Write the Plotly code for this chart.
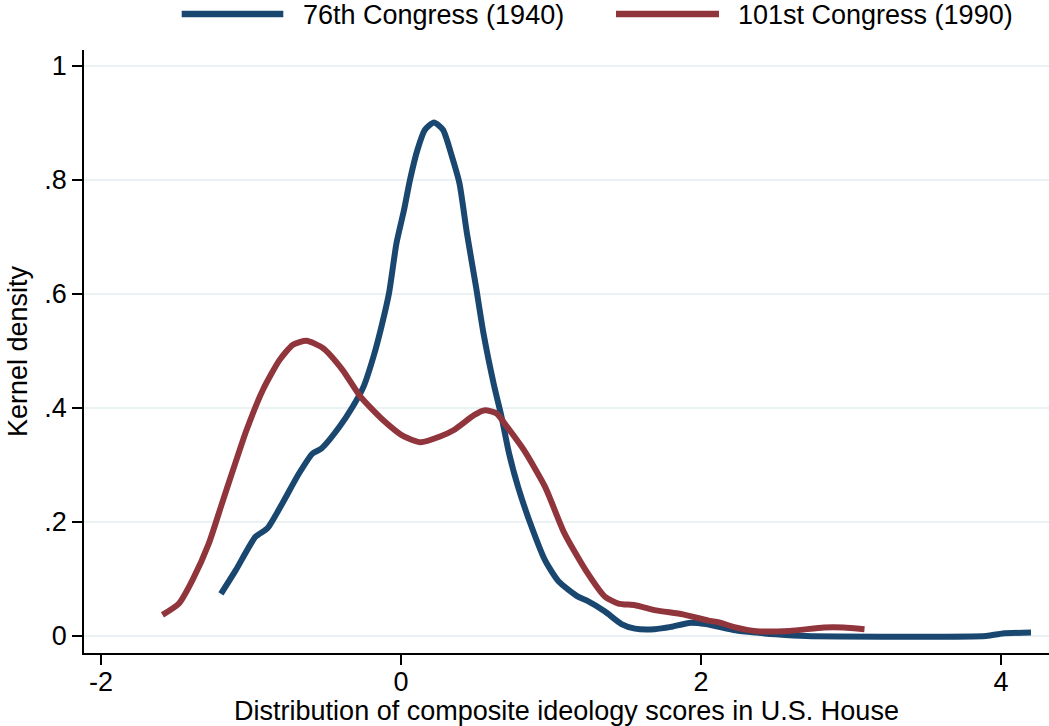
import plotly.graph_objects as go

# 76th Congress (1940) kernel density
x_1940 = [-1.20, -1.10, -0.97, -0.89, -0.79, -0.68, -0.59, -0.53, -0.41, -0.32, -0.25, -0.18,
          -0.13, -0.08, -0.03, 0.02, 0.06, 0.11, 0.16, 0.22, 0.28, 0.34, 0.39, 0.44, 0.50,
          0.55, 0.62, 0.67, 0.72, 0.78, 0.87, 0.96, 1.05, 1.18, 1.24, 1.36, 1.47, 1.56, 1.69,
          1.80, 1.92, 2.03, 2.23, 2.37, 2.50, 2.70, 3.90, 4.01, 4.20]
y_1940 = [0.074, 0.116, 0.174, 0.189, 0.233, 0.285, 0.320, 0.329, 0.367, 0.403, 0.437, 0.493,
          0.543, 0.601, 0.689, 0.747, 0.800, 0.853, 0.888, 0.901, 0.888, 0.841, 0.794, 0.706, 0.613,
          0.531, 0.440, 0.385, 0.321, 0.262, 0.192, 0.133, 0.096, 0.069, 0.062, 0.043, 0.021, 0.013, 0.012,
          0.016, 0.023, 0.021, 0.010, 0.006, 0.003, 0.000, 0.000, 0.0045, 0.006]

# 101st Congress (1990) kernel density
x_1990 = [-1.59, -1.48, -1.39, -1.28, -1.20, -1.12, -1.03, -0.92, -0.81, -0.72, -0.63, -0.52,
          -0.39, -0.27, -0.12, 0.02, 0.13, 0.26, 0.35, 0.49, 0.56, 0.64, 0.69, 0.82, 0.96,
          1.09, 1.23, 1.36, 1.45, 1.56, 1.70, 1.88, 2.05, 2.12, 2.23, 2.37, 2.59, 2.82, 2.95, 3.09]
y_1990 = [0.037, 0.057, 0.098, 0.163, 0.227, 0.291, 0.361, 0.432, 0.484, 0.511, 0.518, 0.505,
          0.467, 0.420, 0.379, 0.350, 0.340, 0.350, 0.361, 0.388, 0.396, 0.390, 0.373, 0.326, 0.262,
          0.180, 0.116, 0.069, 0.057, 0.054, 0.045, 0.038, 0.027, 0.024, 0.015, 0.0085, 0.009, 0.015, 0.015, 0.012]

series_names = ["76th Congress (1940)", "101st Congress (1990)"]
x_ticks = [-2, 0, 2, 4]
x_ticktext = ["-2", "0", "2", "4"]
y_ticks = [0, 0.2, 0.4, 0.6, 0.8, 1]
y_ticktext = ["0", ".2", ".4", ".6", ".8", "1"]

NAVY = "#1A476F"
MAROON = "#90353B"
FONT = "Liberation Sans, Arial, sans-serif"
FS = 27

fig = go.Figure()
fig.add_trace(go.Scatter(x=x_1940, y=y_1940, mode="lines", name=series_names[0],
                         line=dict(color=NAVY, width=6, shape="spline", smoothing=0.6),
                         showlegend=False))
fig.add_trace(go.Scatter(x=x_1990, y=y_1990, mode="lines", name=series_names[1],
                         line=dict(color=MAROON, width=6, shape="spline", smoothing=0.6),
                         showlegend=False))

# manual legend (Stata style) above the plot
L, R, T, B = 84, 1049, 50, 653
W, H = R - L, B - T
def px(xp):
    return (xp - L) / W
def py(yp):
    return (B - yp) / H

legend_items = [(181.7, 283.3, 301.5, NAVY, series_names[0]),
                (616.0, 719.0, 737.0, MAROON, series_names[1])]
for x0, x1, xt, col, name in legend_items:
    fig.add_shape(type="line", xref="paper", yref="paper",
                  x0=px(x0), x1=px(x1), y0=py(14), y1=py(14),
                  line=dict(color=col, width=6.5))
    fig.add_annotation(xref="paper", yref="paper", x=px(xt), y=py(15),
                       xanchor="left", yanchor="middle", text=name, showarrow=False,
                       borderpad=0, font=dict(family=FONT, size=FS, color="black"))

fig.update_layout(
    width=1049, height=726,
    margin=dict(l=L, r=1049 - R, t=T, b=726 - B, pad=0),
    paper_bgcolor="white", plot_bgcolor="white",
    font=dict(family=FONT, size=FS, color="black"),
    showlegend=False,
)
fig.update_xaxes(
    range=[-2.113, 4.32], tickvals=x_ticks, ticktext=x_ticktext,
    showline=True, linecolor="black", linewidth=1.5, mirror=False,
    ticks="outside", ticklen=10, tickwidth=1.5, tickcolor="black",
    showgrid=False, zeroline=False, ticklabelstandoff=-6,
    tickfont=dict(family=FONT, size=FS),
    title=dict(text="Distribution of composite ideology scores in U.S. House",
               font=dict(family=FONT, size=FS), standoff=9),
    automargin=False,
)
fig.update_yaxes(
    range=[-0.0298, 1.028], tickvals=y_ticks, ticktext=y_ticktext,
    showline=True, linecolor="black", linewidth=1.5,
    ticks="outside", ticklen=10, tickwidth=1.5, tickcolor="black",
    showgrid=True, gridcolor="#EAF2F3", gridwidth=1.5, zeroline=False,
    tickfont=dict(family=FONT, size=FS), tickangle=0,
    title=dict(text="Kernel density", font=dict(family=FONT, size=FS), standoff=9),
    automargin=False,
)

fig.write_html("out.html", config={"displayModeBar": False},
               post_script="document.body.style.margin='0';document.body.style.overflow='hidden';")
